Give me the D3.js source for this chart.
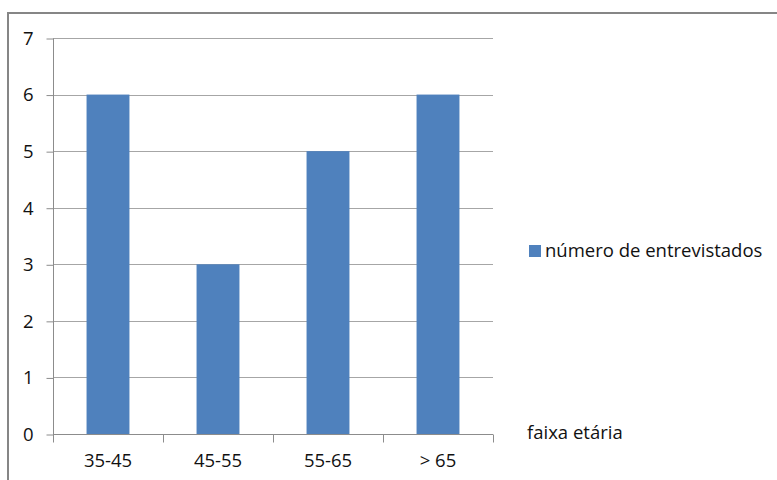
<!DOCTYPE html>
<html>
<head>
<meta charset="utf-8">
<script src="https://cdn.jsdelivr.net/npm/d3@7"></script>
<style>
  html, body { margin: 0; padding: 0; background: #fff; }
  svg { display: block; }
  text { font-family: "Open Sans", "Noto Sans", sans-serif; fill: #111; }
</style>
</head>
<body>
<svg id="chart" width="777" height="480"></svg>
<script>
const categories = ["35-45", "45-55", "55-65", "> 65"];
const values = [6, 3, 5, 6];
const yTicks = [0, 1, 2, 3, 4, 5, 6, 7];
const seriesName = "número de entrevistados";
const axisTitle = "faixa etária";

const svg = d3.select("#chart");
const W = 777, H = 480;
const m = { left: 53, right: 284, top: 38, bottom: 46 };
const x0 = m.left, x1 = W - m.right, y0 = m.top, y1 = H - m.bottom;
const FS = 18.5;

// outer chart border
svg.append("rect")
  .attr("x", 8).attr("y", 13)
  .attr("width", W + 10).attr("height", H + 10)
  .attr("fill", "none").attr("stroke", "#868686").attr("stroke-width", 2);

const x = d3.scaleBand().domain(categories).range([x0, x1]).paddingInner(0).paddingOuter(0);
const y = d3.scaleLinear().domain([0, 7]).range([y1, y0]);

// gridlines
svg.append("g").selectAll("line").data(yTicks.filter(d => d > 0)).join("line")
  .attr("x1", x0).attr("x2", x1)
  .attr("y1", d => Math.round(y(d)) + 0.5).attr("y2", d => Math.round(y(d)) + 0.5)
  .attr("stroke", "#a6a6a6").attr("stroke-width", 1);

// bars
const bw = x.bandwidth() * 0.39;
svg.append("g").selectAll("rect").data(values).join("rect")
  .attr("x", (d, i) => x(categories[i]) + (x.bandwidth() - bw) / 2)
  .attr("width", bw)
  .attr("y", d => y(d))
  .attr("height", d => y(0) - y(d))
  .attr("fill", "#4f81bd");

// y axis
const yAxis = d3.axisLeft(y).tickValues(yTicks).tickSize(7).tickPadding(13).tickFormat(d3.format("d"));
const gy = svg.append("g").attr("transform", `translate(${x0 + 0.5},0.5)`).call(yAxis);
gy.select(".domain").attr("stroke", "#8c8c8c").attr("d", `M0,${y0}V${y1}`);
gy.selectAll(".tick line").attr("stroke", "#8c8c8c");
gy.selectAll(".tick text").attr("font-size", FS).attr("font-family", "Open Sans").attr("fill", "#111");

// x axis
const xAxis = d3.axisBottom(x).tickSize(0).tickPadding(19);
const gx = svg.append("g").attr("transform", `translate(0,${Math.round(y1) + 0.5})`).call(xAxis);
gx.select(".domain").attr("stroke", "#8c8c8c").attr("d", `M${x0},0H${x1}`);
gx.selectAll(".tick text").attr("font-size", FS).attr("font-family", "Open Sans").attr("fill", "#111");
// category boundary ticks
const bounds = categories.map(c => x(c)).concat([x1]);
gx.append("g").selectAll("line").data(bounds).join("line")
  .attr("x1", d => Math.round(d) + 0.5).attr("x2", d => Math.round(d) + 0.5)
  .attr("y1", 0).attr("y2", 8)
  .attr("stroke", "#8c8c8c");

// axis title
svg.append("text").attr("x", 527).attr("y", 439)
  .attr("font-size", FS).text(axisTitle);

// legend
svg.append("rect").attr("x", 529).attr("y", 245).attr("width", 12).attr("height", 12).attr("fill", "#4f81bd");
svg.append("text").attr("x", 545).attr("y", 257)
  .attr("font-size", FS).text(seriesName);
</script>
</body>
</html>
